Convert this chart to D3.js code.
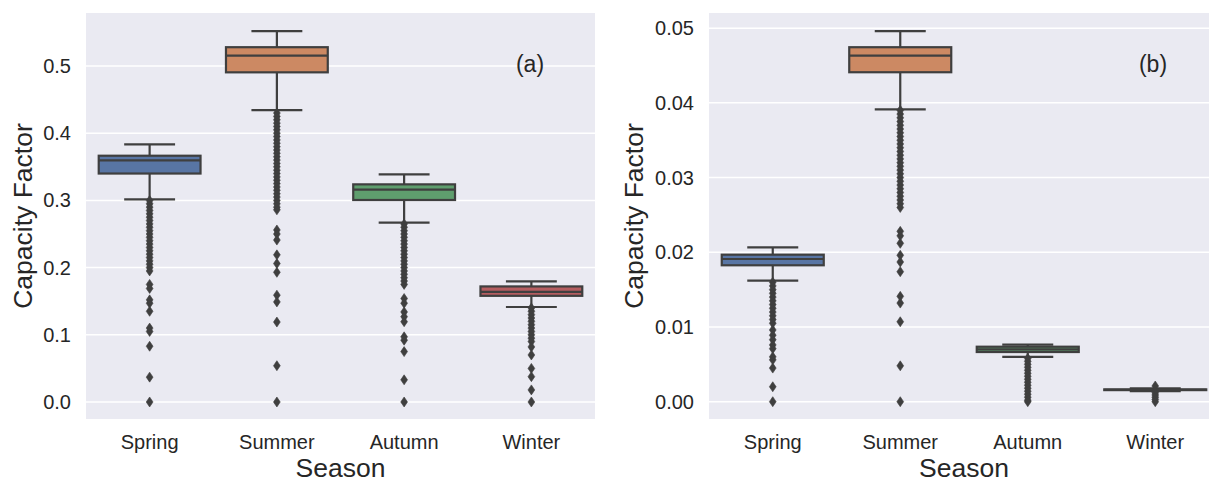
<!DOCTYPE html>
<html>
<head>
<meta charset="utf-8">
<script src="https://cdn.jsdelivr.net/npm/d3@7"></script>
<style>
body { margin: 0; background: #fff; }
text { font-family: Arial, "Liberation Sans", sans-serif; fill: #262626; }
</style>
</head>
<body>
<div id="chart"></div>
<script>
var seasons = ["Spring", "Summer", "Autumn", "Winter"];
var boxColors = ["#5875a4", "#cc8963", "#5f9e6e", "#b55d60"];
var lineColor = "#3f3f3f";

// [lower whisker, q1, median, q3, upper whisker] per season
var statsA = [
    [0.3016, 0.340, 0.3597, 0.3665, 0.3835],
    [0.4345, 0.4906, 0.5154, 0.528, 0.552],
    [0.2668, 0.3006, 0.316, 0.3239, 0.3388],
    [0.1414, 0.158, 0.164, 0.172, 0.1796]
];
var outliersA = [
    [0.300, 0.295, 0.290, 0.285, 0.280, 0.275, 0.270, 0.265, 0.260, 0.255, 0.250, 0.245, 0.240, 0.235, 0.230, 0.225, 0.220, 0.215, 0.210, 0.205, 0.200, 0.195,
     0.175, 0.169, 0.152, 0.147, 0.135, 0.110, 0.105, 0.083, 0.037, 0.0],
    [0.430, 0.425, 0.420, 0.415, 0.410, 0.405, 0.400, 0.395, 0.390, 0.385, 0.380, 0.375, 0.370, 0.365, 0.360, 0.355, 0.350, 0.345, 0.340, 0.335, 0.330, 0.325, 0.320, 0.315, 0.310, 0.305, 0.300, 0.295, 0.290, 0.286,
     0.256, 0.250, 0.241, 0.219, 0.206, 0.193, 0.159, 0.149, 0.119, 0.054, 0.0],
    [0.265, 0.260, 0.255, 0.250, 0.245, 0.240, 0.235, 0.230, 0.225, 0.220, 0.215, 0.210, 0.205, 0.200, 0.195, 0.190, 0.185, 0.180, 0.175,
     0.154, 0.147, 0.134, 0.127, 0.1195, 0.097, 0.092, 0.075, 0.033, 0.0],
    [0.140, 0.135, 0.130, 0.125, 0.120, 0.115, 0.110, 0.105, 0.100, 0.095, 0.090,
     0.082, 0.070, 0.050, 0.0377, 0.018, 0.0]
];
var ticksA = [0.0, 0.1, 0.2, 0.3, 0.4, 0.5];

var statsB = [
    [0.0162, 0.01826, 0.0191, 0.01968, 0.02067],
    [0.03914, 0.0441, 0.04632, 0.04745, 0.0496],
    [0.0060, 0.00665, 0.0070, 0.00736, 0.00763],
    [0.0014, 0.00155, 0.0016, 0.00165, 0.0018]
];
var outliersB = [
    [0.0160, 0.0155, 0.0150, 0.0145, 0.0140, 0.0135, 0.0130, 0.0125, 0.0120, 0.0115, 0.0110, 0.0105,
     0.0096, 0.0089, 0.0083, 0.0076, 0.0071, 0.0060, 0.0056, 0.0045, 0.0020, 0.0],
    [0.0390, 0.0385, 0.0380, 0.0375, 0.0370, 0.0365, 0.0360, 0.0355, 0.0350, 0.0345, 0.0340, 0.0335, 0.0330, 0.0325, 0.0320, 0.0315, 0.0310, 0.0305, 0.0300, 0.0295, 0.0290, 0.0285, 0.0280, 0.0275, 0.0270, 0.0265, 0.0260,
     0.0228, 0.0222, 0.0212, 0.0196, 0.0187, 0.0174, 0.0141, 0.0132, 0.0107, 0.0048, 0.0],
    [0.0058, 0.0054, 0.0050, 0.0046, 0.0042, 0.0038, 0.0034, 0.0030, 0.0026, 0.0022, 0.0018, 0.0014, 0.0010, 0.0006, 0.0002, 0.0],
    [0.0021, 0.0012, 0.0009, 0.0006, 0.0003, 0.0]
];
var ticksB = [0.00, 0.01, 0.02, 0.03, 0.04, 0.05];

var width = 1209, height = 482;

var svg = d3.select("#chart").append("svg")
    .attr("width", width)
    .attr("height", height);

// thin diamond like matplotlib's "d" marker
function diamond(cx, cy) {
    var hw = 3.4, hh = 5;
    return "M" + cx + "," + (cy - hh) + "L" + (cx + hw) + "," + cy +
        "L" + cx + "," + (cy + hh) + "L" + (cx - hw) + "," + cy + "Z";
}

function drawPanel(p) {
    var g = svg.append("g");

    var x = d3.scaleBand().domain(seasons).range([p.left, p.right]).padding(0);
    var y = d3.scaleLinear().domain(p.domain).range([p.bottom, p.top]);

    g.append("rect")
        .attr("x", p.left)
        .attr("y", p.top)
        .attr("width", p.right - p.left)
        .attr("height", p.bottom - p.top)
        .attr("fill", "#eaeaf2");

    // gridlines
    g.selectAll(".grid")
        .data(p.ticks)
        .join("line")
        .attr("x1", p.left)
        .attr("x2", p.right)
        .attr("y1", d => y(d))
        .attr("y2", d => y(d))
        .attr("stroke", "#fff")
        .attr("stroke-width", 1.5);

    // y tick labels
    g.selectAll(".ytick")
        .data(p.ticks)
        .join("text")
        .attr("x", p.left - 15)
        .attr("y", d => y(d))
        .attr("dy", "0.35em")
        .attr("text-anchor", "end")
        .style("font-size", "20px")
        .text(d => d3.format(p.fmt)(d));

    // x tick labels
    g.selectAll(".xtick")
        .data(seasons)
        .join("text")
        .attr("x", d => x(d) + x.bandwidth() / 2)
        .attr("y", 449)
        .attr("text-anchor", "middle")
        .style("font-size", "20px")
        .text(d => d);

    var boxW = x.bandwidth() * 0.8;
    var capW = boxW / 2;

    seasons.forEach(function(s, i) {
        var st = p.stats[i];
        var cx = x(s) + x.bandwidth() / 2;
        var bg = g.append("g")
            .attr("stroke", lineColor)
            .attr("stroke-width", 2.2);

        // whiskers
        bg.append("line").attr("x1", cx).attr("x2", cx).attr("y1", y(st[3])).attr("y2", y(st[4]));
        bg.append("line").attr("x1", cx).attr("x2", cx).attr("y1", y(st[1])).attr("y2", y(st[0]));
        bg.append("line").attr("x1", cx - capW / 2).attr("x2", cx + capW / 2).attr("y1", y(st[4])).attr("y2", y(st[4]));
        bg.append("line").attr("x1", cx - capW / 2).attr("x2", cx + capW / 2).attr("y1", y(st[0])).attr("y2", y(st[0]));

        bg.append("rect")
            .attr("x", cx - boxW / 2)
            .attr("y", y(st[3]))
            .attr("width", boxW)
            .attr("height", y(st[1]) - y(st[3]))
            .attr("fill", boxColors[i]);

        bg.append("line").attr("x1", cx - boxW / 2).attr("x2", cx + boxW / 2).attr("y1", y(st[2])).attr("y2", y(st[2]));

        g.append("g")
            .selectAll("path")
            .data(p.outliers[i])
            .join("path")
            .attr("d", d => diamond(cx, y(d)))
            .attr("fill", lineColor)
            .attr("stroke", lineColor)
            .attr("stroke-width", 0.6);
    });

    // axis labels
    g.append("text")
        .attr("x", (p.left + p.right) / 2)
        .attr("y", 477)
        .attr("text-anchor", "middle")
        .style("font-size", "26.5px")
        .text("Season");

    g.append("text")
        .attr("transform", "translate(" + p.labelX + "," + ((p.top + p.bottom) / 2) + ") rotate(-90)")
        .attr("text-anchor", "middle")
        .attr("dy", "0.35em")
        .style("font-size", "26.5px")
        .text("Capacity Factor");

    g.append("text")
        .attr("x", p.tagX)
        .attr("y", 64)
        .attr("dy", "0.35em")
        .attr("text-anchor", "middle")
        .style("font-size", "23px")
        .text(p.tag);
}

drawPanel({
    left: 86, right: 595, top: 13, bottom: 419,
    domain: [-0.0253, 0.5789],
    ticks: ticksA, fmt: ".1f",
    stats: statsA, outliers: outliersA,
    labelX: 23, tag: "(a)", tagX: 530
});

drawPanel({
    left: 709, right: 1219, top: 13, bottom: 419,
    domain: [-0.002316, 0.05203],
    ticks: ticksB, fmt: ".2f",
    stats: statsB, outliers: outliersB,
    labelX: 634, tag: "(b)", tagX: 1153
});
</script>
</body>
</html>
